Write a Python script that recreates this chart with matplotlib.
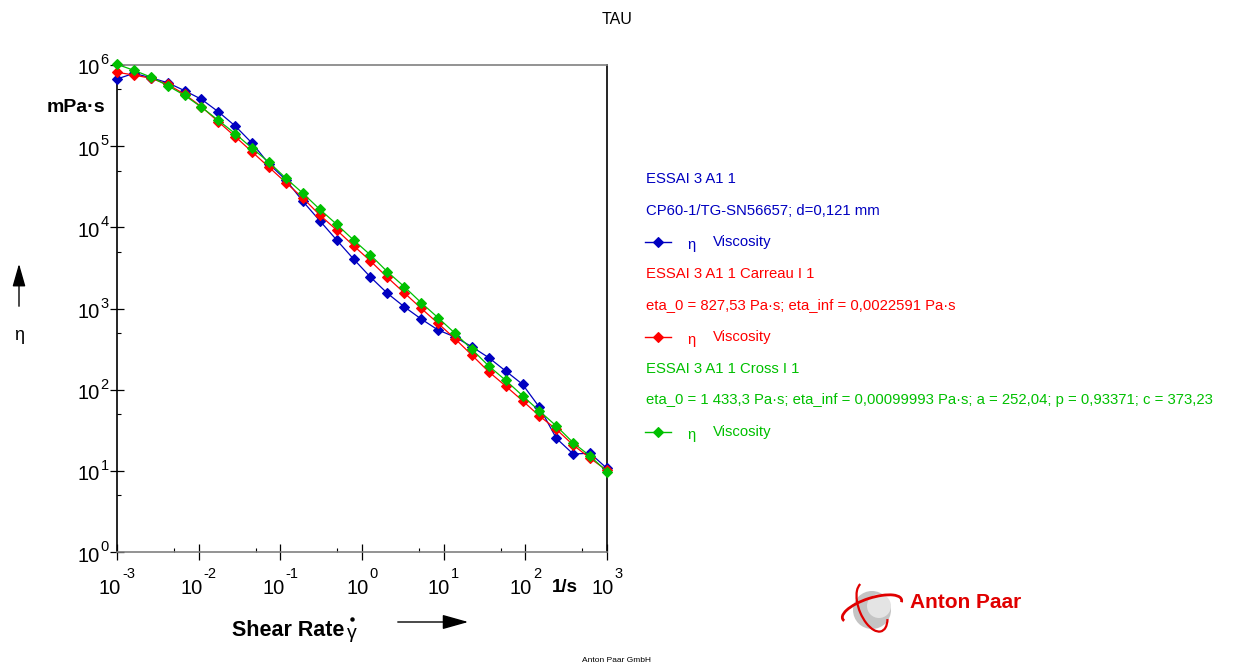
import numpy as np
import matplotlib
matplotlib.use("Agg")
import matplotlib.pyplot as plt
from matplotlib.ticker import FixedLocator, NullFormatter
from matplotlib.patches import Circle, Arc

plt.rcParams['font.family'] = ['Liberation Sans', 'DejaVu Sans']

# Shear rate grid (1/s)
shear_rate = [0.001, 0.001610, 0.002593, 0.004175, 0.006723, 0.010826, 0.017433,
              0.028072, 0.045204, 0.072790, 0.11721, 0.18874, 0.30392, 0.48939,
              0.78805, 1.2690, 2.0434, 3.2903, 5.2983, 8.5317, 13.738, 22.122,
              35.622, 57.362, 92.367, 148.73, 239.50, 385.66, 621.02, 1000.0]

# Viscosity (mPa·s)
eta_measured = [6.72e5, 7.90e5, 6.97e5, 6.05e5, 4.83e5, 3.78e5, 2.65e5, 1.77e5,
                1.085e5, 6.03e4, 3.83e4, 2.09e4, 1.207e4, 6980, 4070, 2440, 1540,
                1050, 743, 544, 446, 338, 248, 170, 116.5, 60.7, 25.2, 16.1, 16.5, 10.7]
eta_carreau = [8.13e5, 7.53e5, 6.86e5, 5.78e5, 4.36e5, 3.06e5, 2.00e5, 1.31e5,
               8.48e4, 5.49e4, 3.55e4, 2.30e4, 1.419e4, 9270, 5940, 3850, 2420,
               1560, 1006, 657, 425, 267, 166.5, 111, 73.1, 47.4, 32.5, 20.8, 14.3, 10.1]
eta_cross = [1.02e6, 8.60e5, 7.11e5, 5.56e5, 4.23e5, 3.02e5, 2.08e5, 1.424e5,
             9.41e4, 6.33e4, 4.02e4, 2.63e4, 1.668e4, 1.09e4, 6980, 4560, 2840,
             1857, 1180, 770, 496, 314, 196, 130.5, 84.3, 54.6, 35.7, 22.2, 15.2, 9.76]

x_exponents = [-3, -2, -1, 0, 1, 2, 3]
y_exponents = [0, 1, 2, 3, 4, 5, 6]

BLUE = '#0000C0'
RED = '#FF0000'
GREEN = '#00C000'

legend_lines = [
    ("ESSAI 3 A1 1", BLUE, False),
    ("CP60-1/TG-SN56657; d=0,121 mm", BLUE, False),
    ("Viscosity", BLUE, True),
    ("ESSAI 3 A1 1 Carreau I 1", RED, False),
    ("eta_0 = 827,53 Pa·s; eta_inf = 0,0022591 Pa·s", RED, False),
    ("Viscosity", RED, True),
    ("ESSAI 3 A1 1 Cross I 1", GREEN, False),
    ("eta_0 = 1 433,3 Pa·s; eta_inf = 0,00099993 Pa·s; a = 252,04; p = 0,93371; c = 373,23", GREEN, False),
    ("Viscosity", GREEN, True),
]

W, H = 1238, 666
fig = plt.figure(figsize=(W / 100, H / 100), dpi=100)
fig.patch.set_facecolor('white')

# overlay in pixel coordinates (y downwards) for annotations
ov = fig.add_axes([0, 0, 1, 1])
ov.set_xlim(0, W)
ov.set_ylim(H, 0)
ov.axis('off')
ov.patch.set_alpha(0)

ax = fig.add_axes([117 / W, 1 - 552 / H, 490 / W, 487 / H])
ax.set_xscale('log')
ax.set_yscale('log')
ax.set_xlim(1e-3, 1e3)
ax.set_ylim(1, 1e6)

for y, c in [(eta_measured, BLUE), (eta_carreau, RED), (eta_cross, GREEN)]:
    ax.plot(shear_rate, y, color=c, lw=0.9, marker='D', ms=4.8,
            mec=c, mfc=c, mew=0.8, clip_on=False, zorder=3)

ax.xaxis.set_major_locator(FixedLocator([10.0 ** e for e in x_exponents]))
ax.xaxis.set_minor_locator(FixedLocator([5 * 10.0 ** e for e in x_exponents[:-1]]))
ax.yaxis.set_major_locator(FixedLocator([10.0 ** e for e in y_exponents]))
ax.yaxis.set_minor_locator(FixedLocator([5 * 10.0 ** e for e in y_exponents[:-1]]))
for axis in (ax.xaxis, ax.yaxis):
    axis.set_major_formatter(NullFormatter())
    axis.set_minor_formatter(NullFormatter())

ax.tick_params(axis='x', which='major', direction='inout', length=11.5, width=0.9,
               color='black')
ax.tick_params(axis='y', which='major', direction='inout', length=10, width=0.9,
               color='black')
ax.tick_params(which='minor', direction='in', length=3, width=0.8, color='black')

ax.spines['left'].set_color('black')
ax.spines['right'].set_color('black')
ax.spines['top'].set_color('#808080')
ax.spines['bottom'].set_color('#808080')
for s in ax.spines.values():
    s.set_linewidth(1.2)

# power-of-ten tick labels, "10" with a raised exponent
renderer = fig.canvas.get_renderer()


def width_px(t):
    return t.get_window_extent(renderer=renderer).width


BASE_FS, EXP_FS = 14.5, 10.5
for e in x_exponents:
    xp = ax.transData.transform((10.0 ** e, 1.0))[0]
    t1 = ov.text(0, 588, "10", fontsize=BASE_FS, ha='left', va='center')
    t2 = ov.text(0, 574, "%d" % e, fontsize=EXP_FS, ha='left', va='center')
    w1, w2 = width_px(t1), width_px(t2)
    left = xp - (w1 + 1 + w2) / 2
    t1.set_x(left)
    t2.set_x(left + w1 + 1)

for e in y_exponents:
    yp = H - ax.transData.transform((1.0, 10.0 ** e))[1]
    ov.text(99.5, yp + 4, "10", fontsize=BASE_FS, ha='right', va='center')
    ov.text(100.5, yp - 5, "%d" % e, fontsize=EXP_FS, ha='left', va='center')

# axis captions
ov.text(105, 107, "mPa·s", fontsize=14, fontweight='bold', ha='right', va='center')
ov.text(565, 588, "1/s", fontsize=13.5, fontweight='bold', ha='center', va='center')
ov.text(232, 631, "Shear Rate", fontsize=15.5, fontweight='bold', ha='left', va='center')
ov.text(352, 634, "γ", fontsize=14, ha='center', va='center')
ov.plot([352], [619], marker='o', ms=2.2, color='black')
ov.annotate("", xy=(471, 622), xytext=(395, 622),
            arrowprops=dict(arrowstyle='-|>,head_length=1.6,head_width=0.45',
                            color='black', lw=1.0))
ov.annotate("", xy=(19, 261), xytext=(19, 309),
            arrowprops=dict(arrowstyle='-|>,head_length=1.4,head_width=0.4',
                            color='black', lw=1.0))
ov.text(19, 336, "η", fontsize=13, ha='center', va='center')

ov.text(617, 19, "TAU", fontsize=11.5, ha='center', va='center')
ov.text(617, 661, "Anton Paar GmbH", fontsize=6, ha='center', va='center')

# legend block
y0, dy = 179, 31.6
LEG_FS = 10.7
for k, (txt, col, sample) in enumerate(legend_lines):
    yy = y0 + k * dy
    if sample:
        ov.plot([645, 671], [yy, yy], color=col, lw=1.0)
        ov.plot([658], [yy], marker='D', ms=4.8, color=col, mew=0.8)
        ov.text(691, yy + 3, "η", fontsize=LEG_FS, color=col, ha='center', va='center')
        ov.text(713, yy, txt, fontsize=LEG_FS, color=col, ha='left', va='center')
    else:
        ov.text(646, yy, txt, fontsize=LEG_FS, color=col, ha='left', va='center')

# company logo
ov.add_patch(Circle((872, 610), 19, facecolor='#c4c4c4', edgecolor='none'))
ov.add_patch(Circle((879, 606), 12, facecolor='#e4e4e4', edgecolor='none'))
ov.add_patch(Arc((872, 609), 62, 22, angle=-18, theta1=175, theta2=365,
                 color='#e00000', lw=2.0))
ov.add_patch(Arc((872, 607), 26, 52, angle=-22, theta1=60, theta2=265,
                 color='#e00000', lw=1.6))
ov.text(910, 603, "Anton Paar", fontsize=15, fontweight='bold', color='#e00000',
        ha='left', va='center')

fig.savefig("out.png", dpi=100, facecolor='white')
